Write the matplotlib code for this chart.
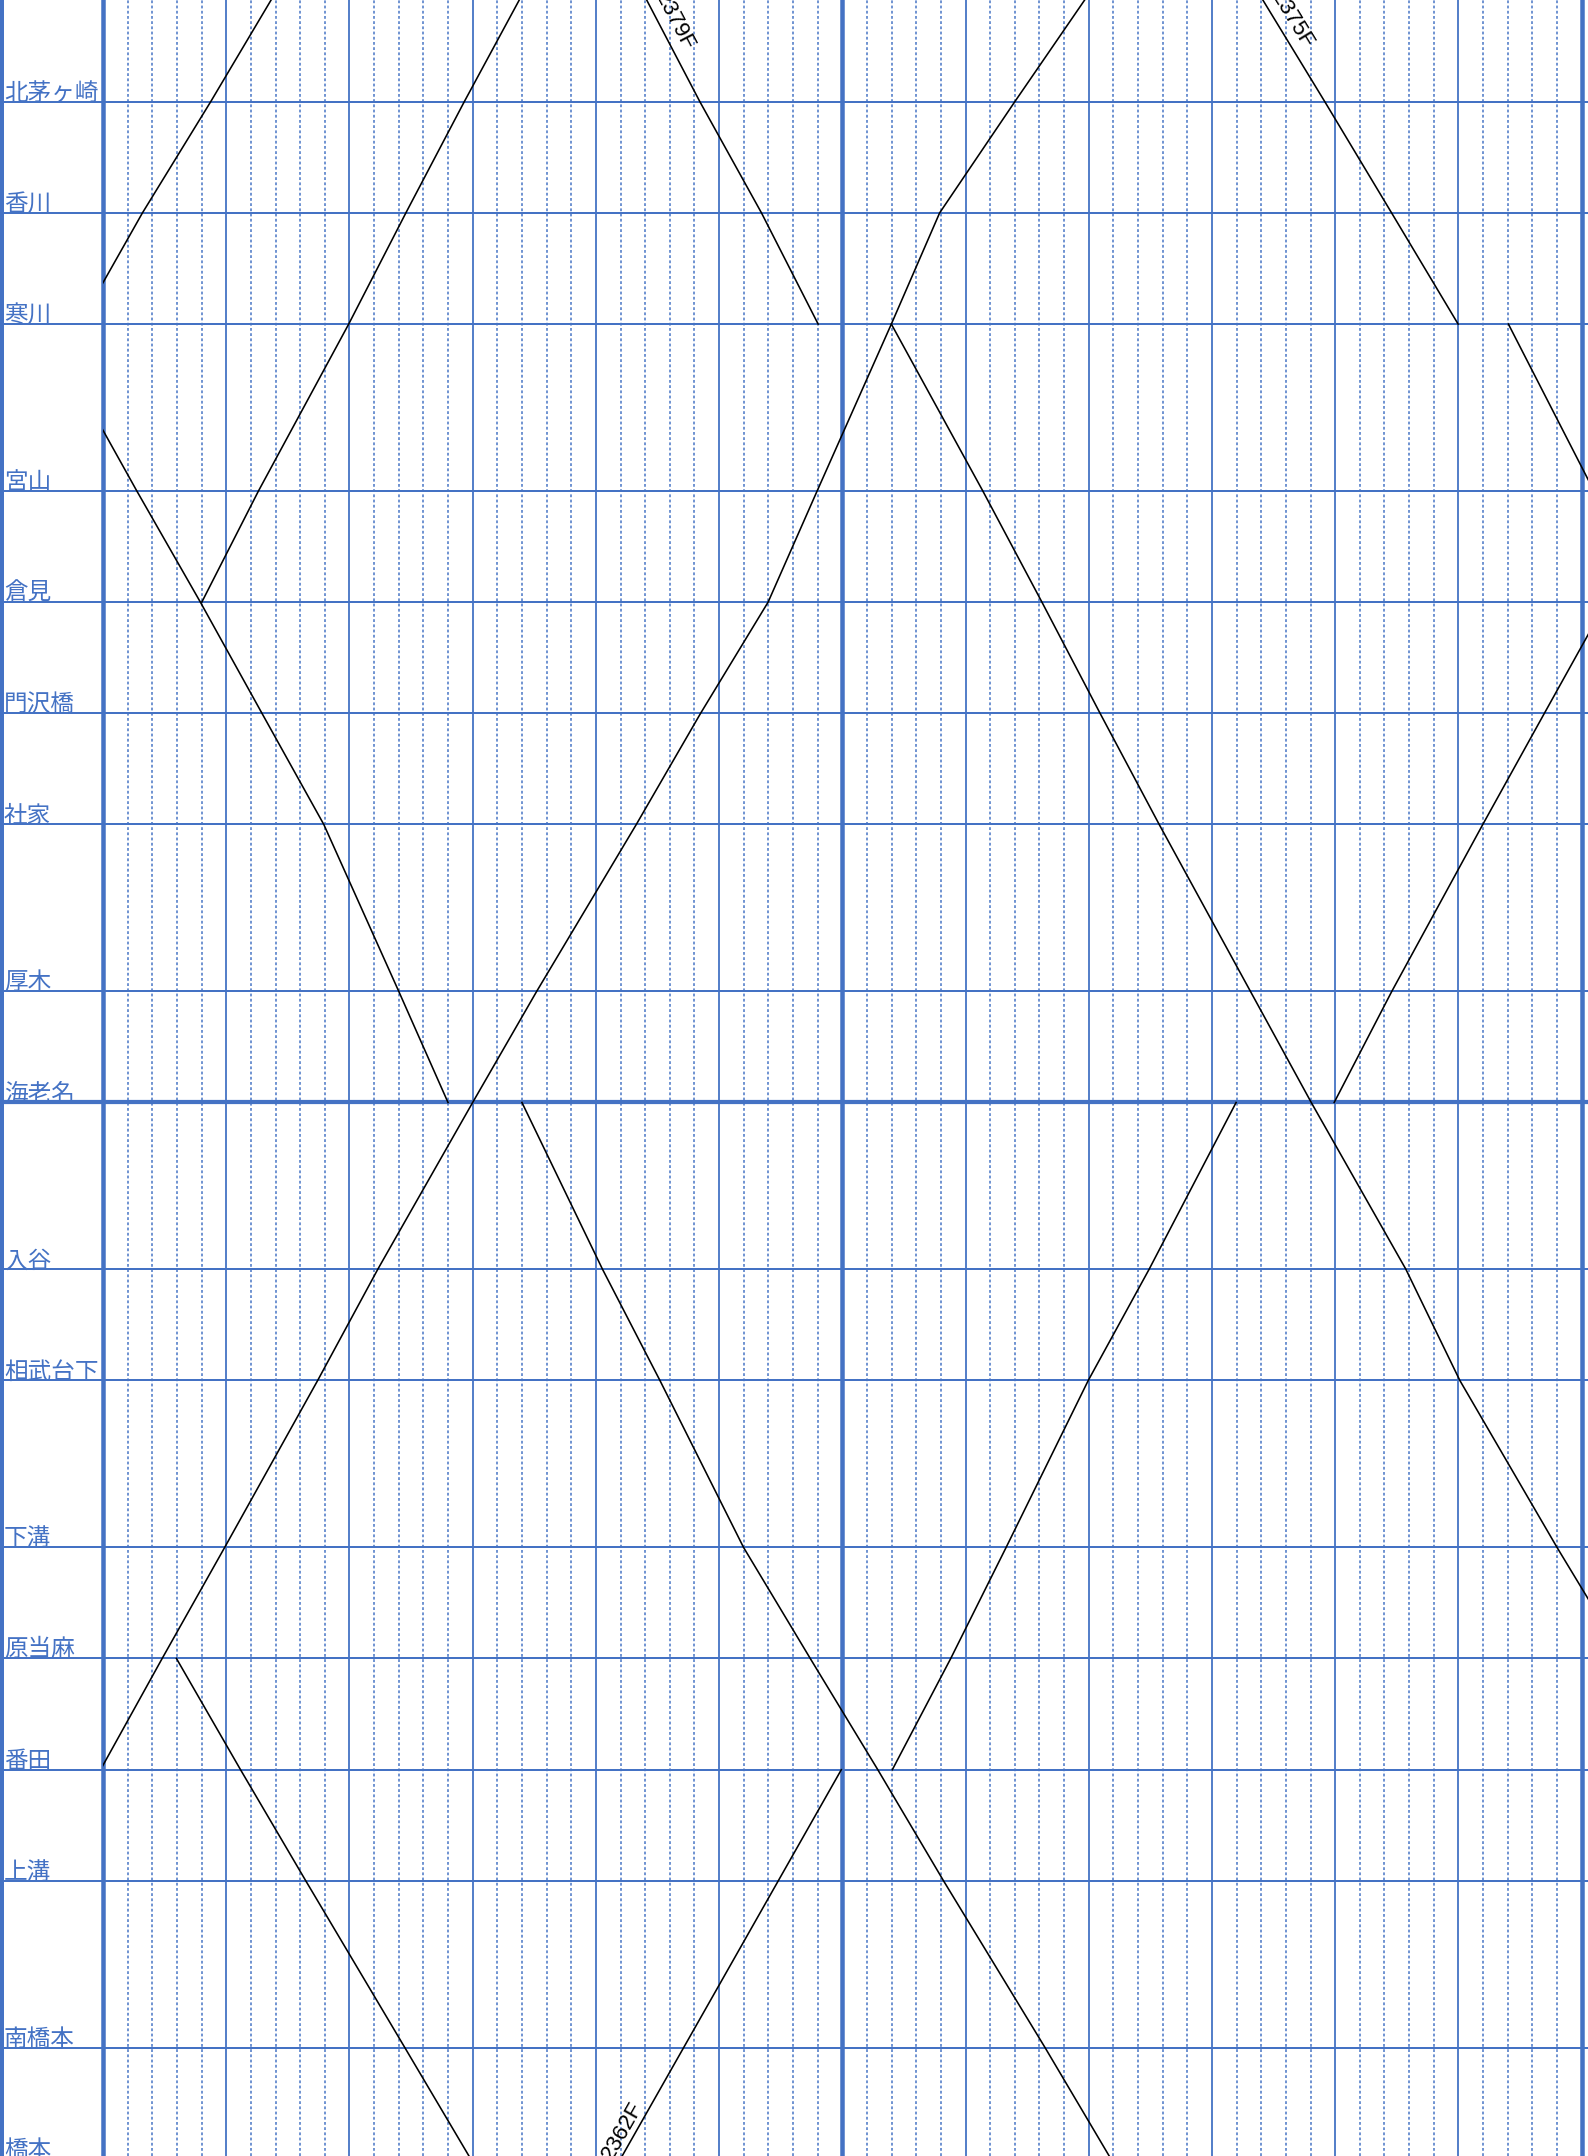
import numpy as np
import matplotlib
matplotlib.use("Agg")
import matplotlib.pyplot as plt
from matplotlib import transforms as mtransforms
from matplotlib import patches as mpatches

plt.rcParams['font.family'] = ['Noto Sans CJK JP', 'DejaVu Sans']
plt.rcParams['lines.scale_dashes'] = False

# ---------------- data ----------------
# stations and their vertical position (running-time units)
stations = ['茅ヶ崎', '北茅ヶ崎', '香川', '寒川', '宮山', '倉見', '門沢橋', '社家', '厚木',
            '海老名', '入谷', '相武台下', '下溝', '原当麻', '番田', '上溝', '南橋本', '橋本']
station_pos = [-2, 0, 2, 4, 7, 9, 11, 13, 16, 18, 21, 23, 26, 28, 30, 32, 35, 37]
major_stations = ['海老名']

# minutes shown on the time axis
minute_ticks = list(range(0, 61))

# trains: station sequence and times (minutes); repeated station = dwell (not drawn)
tr1_st = ['寒川', '香川', '北茅ヶ崎', '茅ヶ崎']
tr1_tm = [-0.95, 1.6, 4.37, 7.05]

tr2_st = ['寒川', '宮山', '倉見', '門沢橋', '社家', '厚木', '海老名', '海老名', '入谷',
          '相武台下', '下溝', '原当麻', '番田', '上溝', '南橋本', '橋本']
tr2_tm = [-2.4, 1.37, 3.95, 6.45, 8.96, 12.0, 14.0, 17.0, 20.27,
          22.6, 25.99, 28.7, 31.44, 34.11, 38.23, 40.9]

tr3_st = ['番田', '原当麻', '下溝', '相武台下', '入谷', '海老名', '厚木', '社家', '門沢橋',
          '倉見', '宮山', '寒川', '香川', '北茅ヶ崎', '茅ヶ崎']
tr3_tm = [-0.1, 2.4, 4.94, 8.71, 11.15, 15.0, 17.6, 21.64, 24.25,
          26.99, 28.98, 31.99, 33.95, 37.0, 40.1]

tr4_st = ['原当麻', '番田', '上溝', '南橋本', '橋本']
tr4_tm = [2.98, 5.58, 8.23, 12.25, 14.92]

tr5_st = ['倉見', '宮山', '寒川', '香川', '北茅ヶ崎', '茅ヶ崎']
tr5_tm = [4.01, 6.31, 9.97, 12.29, 14.66, 17.1]

tr6_st = ['茅ヶ崎', '北茅ヶ崎', '香川', '寒川', '寒川', '宮山', '倉見', '門沢橋', '社家',
          '厚木', '海老名', '入谷', '相武台下', '下溝', '原当麻']
tr6_tm = [21.86, 24.22, 26.72, 29.02, 31.99, 35.7, 38.1, 40.46, 42.86,
          46.56, 49.03, 52.87, 55.06, 59.0, 61.73]

tr7_st = ['橋本', '南橋本', '上溝', '番田', '番田', '原当麻', '下溝', '相武台下', '入谷',
          '海老名', '海老名', '厚木', '社家', '門沢橋', '倉見']
tr7_tm = [21.0, 23.56, 27.4, 29.96, 32.03, 34.4, 36.65, 39.98, 42.45,
          45.98, 49.96, 52.3, 55.99, 58.49, 61.0]

tr8_st = ['茅ヶ崎', '北茅ヶ崎', '香川', '寒川', '寒川', '宮山']
tr8_tm = [46.83, 49.58, 52.29, 54.99, 57.03, 60.5]

trains = [(tr1_st, tr1_tm, None), (tr2_st, tr2_tm, None), (tr3_st, tr3_tm, None),
          (tr4_st, tr4_tm, None), (tr5_st, tr5_tm, None), (tr6_st, tr6_tm, '2379F'),
          (tr7_st, tr7_tm, '2362F'), (tr8_st, tr8_tm, '2375F')]
# where along the first segment the train number is written (station units), and offset (px)
label_at = {'2379F': -1.33, '2375F': -1.33, '2362F': 36.6}
label_off = {'2379F': 14.5, '2375F': 14.5, '2362F': 12.5}

# ---------------- style ----------------
BLUE = '#4472C4'
W, H, DPI = 1588, 2156, 100
PX = 72.0 / DPI  # points per pixel

fig = plt.figure(figsize=(W / DPI, H / DPI), dpi=DPI)
ax = fig.add_axes([0, 0, 1, 1])
XMIN, XMAX = -4.18, 60.26
YBOT, YTOP = 36.948, -1.829
ax.set_xlim(XMIN, XMAX)
ax.set_ylim(YBOT, YTOP)
for s in ['top', 'right', 'bottom']:
    ax.spines[s].set_visible(False)
ax.spines['left'].set_color(BLUE)
ax.spines['left'].set_linewidth(7 * PX)
ax.set_xticks([])
ax.set_yticks([])

pos_of = dict(zip(stations, station_pos))

# vertical time grid
for m in minute_ticks:
    if m % 30 == 0:
        ax.axvline(m, color=BLUE, lw=4.5 * PX, zorder=2)
    elif m % 5 == 0:
        ax.axvline(m, color=BLUE, lw=1.8 * PX, zorder=2)
    else:
        ax.axvline(m, color=BLUE, lw=1.5 * PX, zorder=1,
                   linestyle=(0, (2.8 * PX, 2.4 * PX)))

# station lines and labels
lab_tr = mtransforms.offset_copy(ax.get_yaxis_transform(), fig=fig, x=0, y=2, units='dots')
for name, p in zip(stations, station_pos):
    lw = 4.2 if name in major_stations else 2.0
    ax.axhline(p, color=BLUE, lw=lw * PX, zorder=2)
    if YTOP < p <= YBOT + 1:
        ax.text(4 / W, p, name, transform=lab_tr, ha='left', va='baseline',
                fontsize=17, color=BLUE, zorder=3, clip_on=False)

# diagram area (train lines are clipped to it)
clip_rect = mpatches.Rectangle((minute_ticks[0], YTOP - 5), XMAX + 5, YBOT - YTOP + 10,
                               transform=ax.transData, facecolor='none', edgecolor='none')

# train lines
for st, tm, tid in trains:
    xs, ys = [], []
    for i, (s, t) in enumerate(zip(st, tm)):
        if i > 0 and s == st[i - 1]:
            xs.append(np.nan)
            ys.append(np.nan)
        xs.append(t)
        ys.append(pos_of[s])
    ln, = ax.plot(xs, ys, color='black', lw=1.6 * PX, zorder=5, solid_joinstyle='round')
    ln.set_clip_path(clip_rect)
    if tid:
        y0, y1 = pos_of[st[0]], pos_of[st[1]]
        t0, t1 = tm[0], tm[1]
        yl = label_at[tid]
        tl = t0 + (yl - y0) / (y1 - y0) * (t1 - t0)
        p0 = ax.transData.transform((t0, y0))
        p1 = ax.transData.transform((t1, y1))
        ang = np.degrees(np.arctan2(p1[1] - p0[1], p1[0] - p0[0]))
        if ang > 90:
            ang -= 180
        elif ang < -90:
            ang += 180
        th = np.radians(ang)
        ux, uy = -np.sin(th), np.cos(th)
        off = label_off[tid] * PX
        ax.annotate(tid, xy=(tl, yl), xytext=(off * ux, off * uy), textcoords='offset points',
                    rotation=ang, rotation_mode='anchor', ha='center', va='center',
                    fontsize=16, family=['Liberation Sans', 'DejaVu Sans'],
                    color='black', zorder=6, annotation_clip=False)

fig.savefig('out.png', dpi=DPI)
